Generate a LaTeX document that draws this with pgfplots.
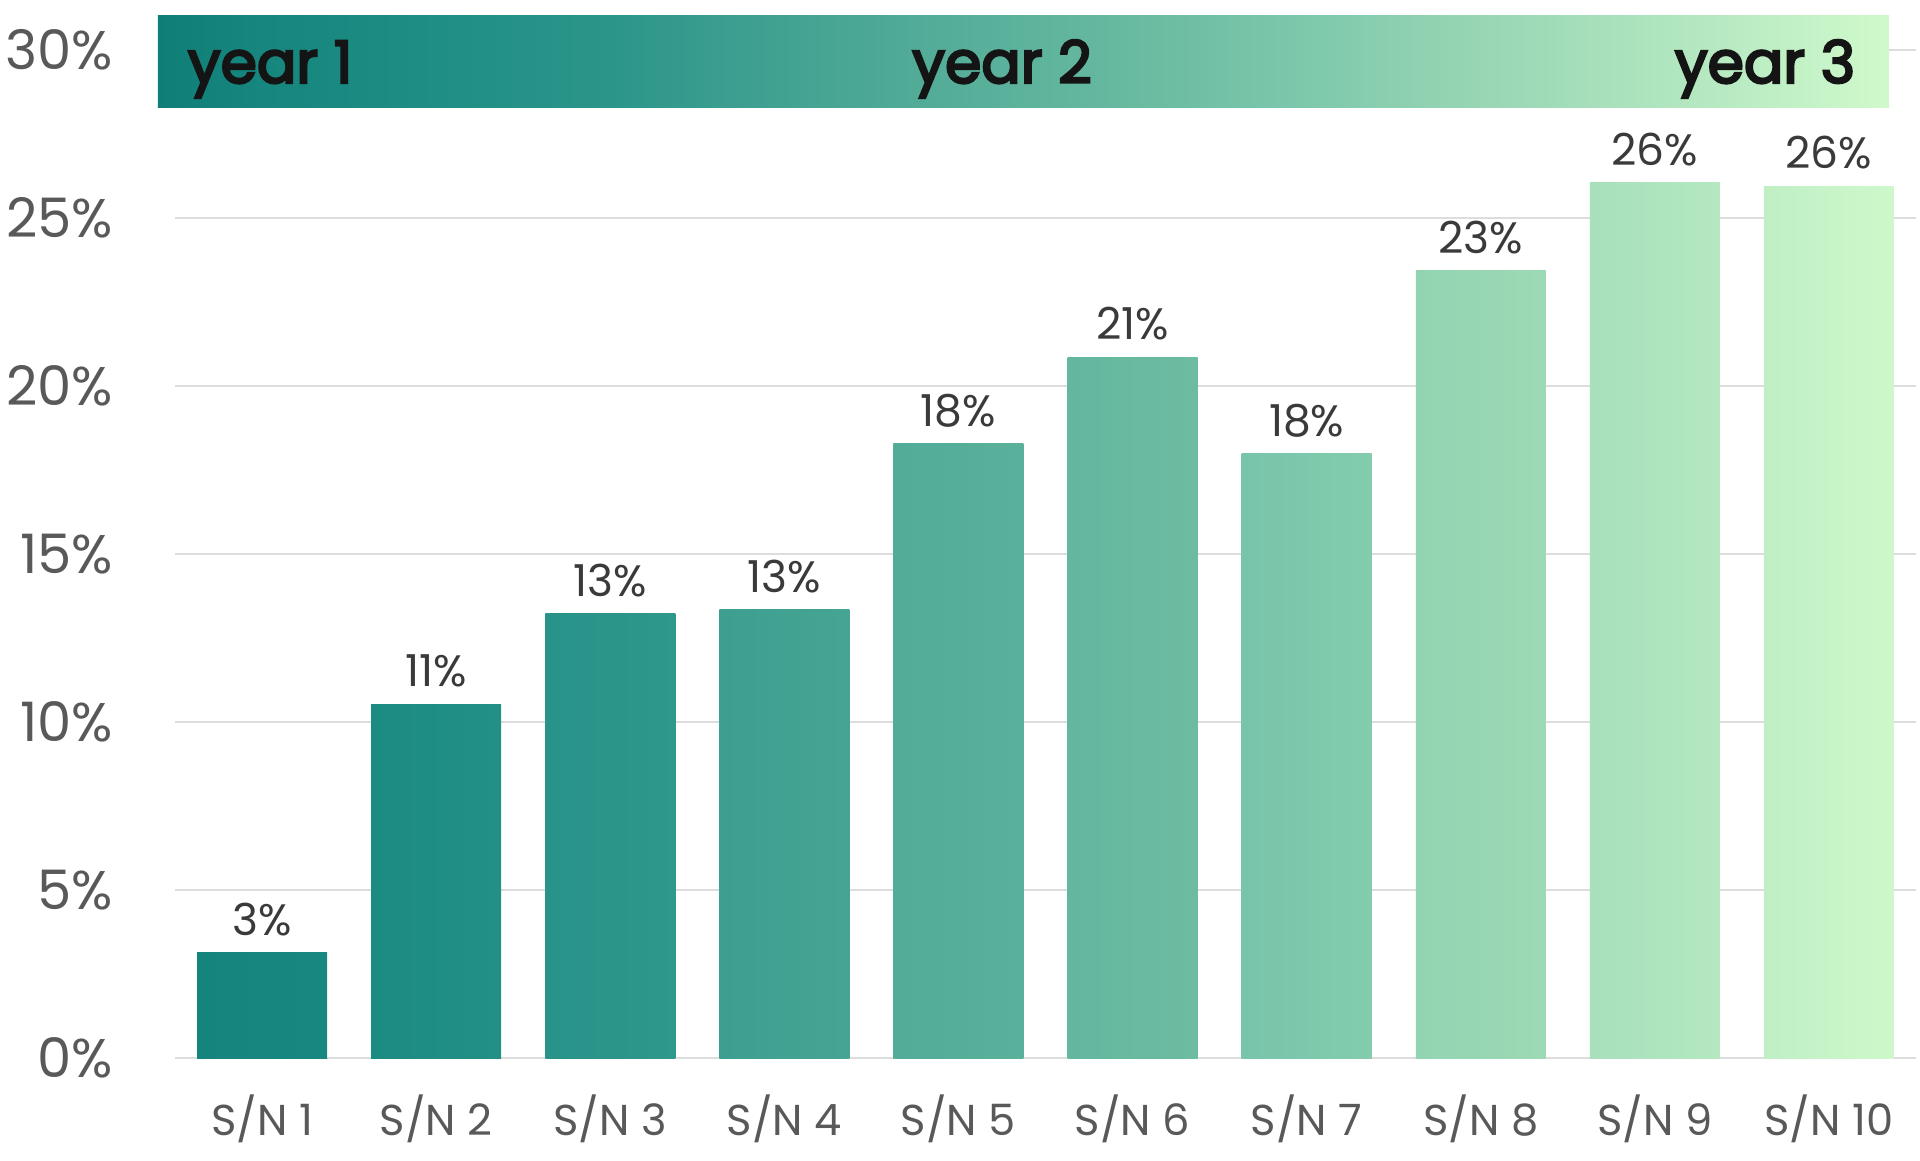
\documentclass[border=0pt]{standalone}
\usepackage{fontspec}
\setmainfont{Poppins}
\newfontfamily\yearfont{Poppins}[FakeBold=4]
\usepackage{pgfplots}
\pgfplotsset{compat=1.18}

\definecolor{gridc}{HTML}{DDDDDD}
\definecolor{tickc}{HTML}{595959}
\definecolor{valc}{HTML}{3A3A3A}
\definecolor{yearc}{HTML}{141414}

\definecolor{bL1}{HTML}{15847D}\definecolor{bR1}{HTML}{178880}
\definecolor{bL2}{HTML}{1C8B82}\definecolor{bR2}{HTML}{229085}
\definecolor{bL3}{HTML}{28938A}\definecolor{bR3}{HTML}{2F978B}
\definecolor{bL4}{HTML}{3D9F91}\definecolor{bR4}{HTML}{46A493}
\definecolor{bL5}{HTML}{52AC97}\definecolor{bR5}{HTML}{5AB09B}
\definecolor{bL6}{HTML}{63B79E}\definecolor{bR6}{HTML}{6DBCA2}
\definecolor{bL7}{HTML}{78C4AA}\definecolor{bR7}{HTML}{83CCAE}
\definecolor{bL8}{HTML}{92D4B2}\definecolor{bR8}{HTML}{9DD9B5}
\definecolor{bL9}{HTML}{A7E0BC}\definecolor{bR9}{HTML}{B4E8C0}
\definecolor{bL10}{HTML}{C0EFC6}\definecolor{bR10}{HTML}{CEF8CA}

\definecolor{s0}{HTML}{0F7E77}
\definecolor{s1}{HTML}{16867E}
\definecolor{s2}{HTML}{1F8E84}
\definecolor{s3}{HTML}{2C958A}
\definecolor{s4}{HTML}{42A292}
\definecolor{s5}{HTML}{56AE99}
\definecolor{s6}{HTML}{68BAA0}
\definecolor{s7}{HTML}{7EC8AC}
\definecolor{s8}{HTML}{98D6B4}
\definecolor{s9}{HTML}{AEE4BE}
\definecolor{s10}{HTML}{C7F4C8}
\definecolor{s11}{HTML}{D1F9CB}

\pgfdeclarehorizontalshading{yearband}{100bp}{%
color(0bp)=(s0); color(25bp)=(s0);
color(28.00bp)=(s1); color(33.03bp)=(s2); color(38.06bp)=(s3);
color(43.09bp)=(s4); color(48.12bp)=(s5); color(53.15bp)=(s6);
color(58.18bp)=(s7); color(63.21bp)=(s8); color(68.24bp)=(s9);
color(73.27bp)=(s10); color(75bp)=(s11); color(100bp)=(s11)}

\begin{document}
\begin{tikzpicture}
\useasboundingbox (0,0) rectangle (480pt,290pt);
\begin{axis}[
  at={(43.75pt,25.5pt)}, anchor=south west,
  scale only axis,
  width=435.25pt, height=264.5pt,
  xmin=-0.5, xmax=9.5,
  ymin=0, ymax=31.488,
  clip=false,
  axis line style={draw=none},
  major tick length=0pt,
  ymajorgrids,
  grid style={gridc, line width=0.5pt},
  ytick={0,5,10,15,20,25,30},
  yticklabels={0\%,5\%,10\%,15\%,20\%,25\%,30\%},
  xtick={0,1,2,3,4,5,6,7,8,9},
  xticklabels={S/N 1,S/N 2,S/N 3,S/N 4,S/N 5,S/N 6,S/N 7,S/N 8,S/N 9,S/N 10},
  yticklabel style={anchor=east, inner sep=0pt, xshift=-15.25pt,
    font=\fontsize{13.6}{15}\selectfont, text=tickc},
  xticklabel style={anchor=base, inner sep=0pt, yshift=-19.25pt,
    font=\fontsize{10.8}{12}\selectfont, text=tickc},
  /pgf/number format/assume math mode=true,
  ybar,
  bar width=32.5pt,
  nodes near coords={\pgfmathprintnumber[fixed,precision=0]{\pgfplotspointmeta}\%},
  every node near coord/.append style={anchor=base, inner sep=0pt, yshift=4.3pt,
    font=\fontsize{11}{12}\selectfont, text=valc},
]
\addplot[bar shift=0pt, draw=none, left color=bL1, right color=bR1] coordinates {(0,3.13)};
\addplot[bar shift=0pt, draw=none, left color=bL2, right color=bR2] coordinates {(1,10.53)};
\addplot[bar shift=0pt, draw=none, left color=bL3, right color=bR3] coordinates {(2,13.23)};
\addplot[bar shift=0pt, draw=none, left color=bL4, right color=bR4] coordinates {(3,13.34)};
\addplot[bar shift=0pt, draw=none, left color=bL5, right color=bR5] coordinates {(4,18.29)};
\addplot[bar shift=0pt, draw=none, left color=bL6, right color=bR6] coordinates {(5,20.86)};
\addplot[bar shift=0pt, draw=none, left color=bL7, right color=bR7] coordinates {(6,18.00)};
\addplot[bar shift=0pt, draw=none, left color=bL8, right color=bR8] coordinates {(7,23.43)};
\addplot[bar shift=0pt, draw=none, left color=bL9, right color=bR9] coordinates {(8,26.06)};
\addplot[bar shift=0pt, draw=none, left color=bL10, right color=bR10] coordinates {(9,25.95)};

\path[shading=yearband] (axis cs:-0.598,28.30) rectangle (axis cs:9.345,31.04);
\node[anchor=base west, inner sep=0pt, text=yearc, font=\fontsize{14.6}{16}\yearfont]
  at (axis cs:-0.431,29.02) {year 1};
\node[anchor=base, inner sep=0pt, text=yearc, font=\fontsize{14.6}{16}\yearfont]
  at (axis cs:4.25,29.02) {year 2};
\node[anchor=base east, inner sep=0pt, text=yearc, font=\fontsize{14.6}{16}\yearfont]
  at (axis cs:9.155,29.02) {year 3};
\end{axis}
\end{tikzpicture}
\end{document}
